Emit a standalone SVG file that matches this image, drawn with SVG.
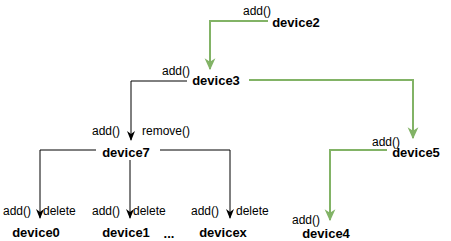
<svg xmlns="http://www.w3.org/2000/svg" width="451" height="241" viewBox="0 0 451 241">
  <style>
    .lbl { font-family: "Liberation Sans", Arial, sans-serif; font-size: 12px; fill: #000; }
    .dev { font-family: "Liberation Sans", Arial, sans-serif; font-size: 13px; font-weight: bold; fill: #000; text-anchor: middle; }
    .blk { fill: none; stroke: #000; stroke-width: 1; }
    .grn { fill: none; stroke: #82b366; stroke-width: 2; }
  </style>
  <defs>
    <marker id="arrB" viewBox="0 0 10 10" refX="9" refY="5" markerWidth="10" markerHeight="10" markerUnits="userSpaceOnUse" orient="auto">
      <path d="M0,1 L10,5 L0,9 L3,5 Z" fill="#000"/>
    </marker>
    <marker id="arrG" viewBox="0 0 10 10" refX="9" refY="5" markerWidth="12" markerHeight="12" markerUnits="userSpaceOnUse" orient="auto">
      <path d="M0,0.5 L10,5 L0,9.5 L3,5 Z" fill="#82b366"/>
    </marker>
  </defs>

  <g id="connectors">
    <path class="grn" d="M268,21 H210 V69" marker-end="url(#arrG)"/>
    <path class="grn" d="M249,80 H413 V138" marker-end="url(#arrG)"/>
    <path class="grn" d="M387,150 H330 V220" marker-end="url(#arrG)"/>
    <path class="blk" d="M187,81 H131 V140" marker-end="url(#arrB)"/>
    <path class="blk" d="M96,150 H40 V218" marker-end="url(#arrB)"/>
    <path class="blk" d="M130,160 V218" marker-end="url(#arrB)"/>
    <path class="blk" d="M160,150 H230 V218" marker-end="url(#arrB)"/>
  </g>

  <g id="device2">
    <text class="lbl" x="243" y="15">add()</text>
    <text class="dev" x="296" y="27">device2</text>
  </g>
  <g id="device3">
    <text class="lbl" x="162" y="75">add()</text>
    <text class="dev" x="216" y="85">device3</text>
  </g>
  <g id="device7">
    <text class="lbl" x="92" y="135">add()</text>
    <text class="lbl" x="142" y="135">remove()</text>
    <text class="dev" x="126" y="157">device7</text>
  </g>
  <g id="device0">
    <text class="lbl" x="3" y="215">add()</text>
    <text class="lbl" x="43" y="215">delete</text>
    <text class="dev" x="36" y="237">device0</text>
  </g>
  <g id="device1">
    <text class="lbl" x="92" y="215">add()</text>
    <text class="lbl" x="133" y="215">delete</text>
    <text class="dev" x="126" y="237">device1</text>
  </g>
  <g id="ellipsis">
    <text class="dev" x="169" y="238">...</text>
  </g>
  <g id="devicex">
    <text class="lbl" x="191" y="215">add()</text>
    <text class="lbl" x="236" y="215">delete</text>
    <text class="dev" x="223" y="237">devicex</text>
  </g>
  <g id="device5">
    <text class="lbl" x="372" y="146">add()</text>
    <text class="dev" x="416" y="157">device5</text>
  </g>
  <g id="device4">
    <text class="lbl" x="292" y="224">add()</text>
    <text class="dev" x="326" y="238">device4</text>
  </g>
</svg>
